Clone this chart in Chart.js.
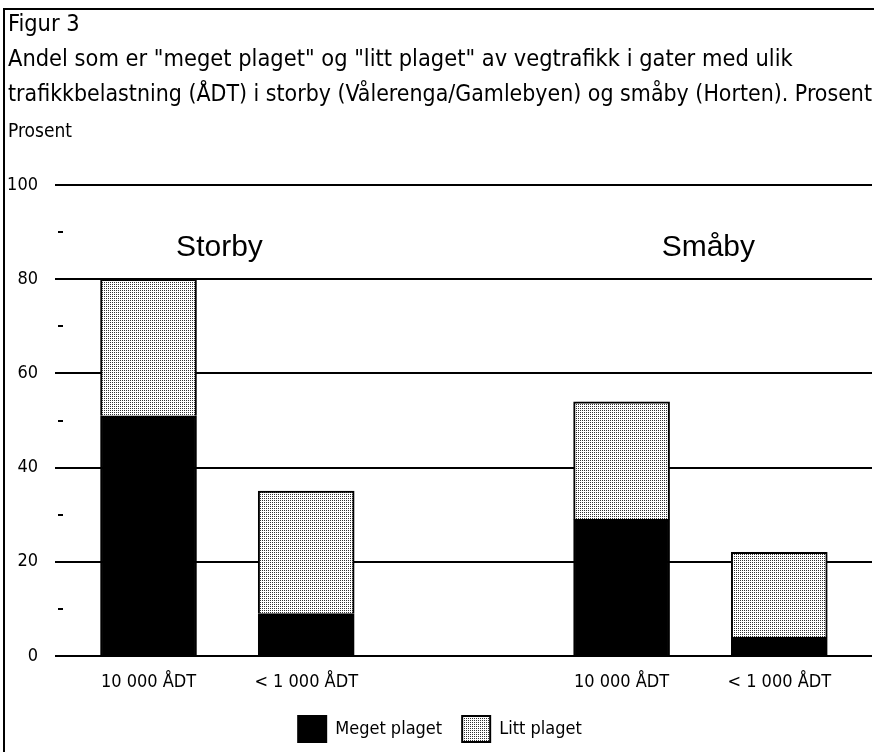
<!DOCTYPE html>
<html>
<head>
<meta charset="utf-8">
<script src="https://cdn.jsdelivr.net/npm/chart.js@4.4.1/dist/chart.umd.min.js"></script>
<style>
  html, body { margin: 0; padding: 0; background: #fff; }
  #wrap { width: 874px; height: 752px; position: relative; }
</style>
</head>
<body>
<div id="wrap"><canvas id="chart"></canvas></div>
<script>
const titleLines = [
  'Figur 3',
  'Andel som er "meget plaget" og "litt plaget" av vegtrafikk i gater med ulik',
  'trafikkbelastning (ÅDT) i storby (Vålerenga/Gamlebyen) og småby (Horten). Prosent'
];
const yTitle = 'Prosent';
const categories = ['10 000 ÅDT', '< 1 000 ÅDT', '10 000 ÅDT', '< 1 000 ÅDT'];
const slots = [0, 1, 3, 4];
const groups = ['Storby', 'Småby'];
const groupSlots = [0.45, 3.55];
const meget = [51, 9, 29, 4];
const litt = [29, 26, 25, 18];
const yMajor = [0, 20, 40, 60, 80, 100];
const yMinor = [10, 30, 50, 70, 90];

const NARROW = "'DejaVu Sans Condensed', 'Liberation Sans Narrow', 'Liberation Sans', sans-serif";
const WIDE = "'Liberation Sans', Arial, sans-serif";

// dotted fill like the printed raster
function dotPattern() {
  const c = document.createElement('canvas');
  c.width = 2; c.height = 2;
  const g = c.getContext('2d');
  g.fillStyle = '#fff';
  g.fillRect(0, 0, 2, 2);
  g.fillStyle = '#333';
  g.fillRect(0, 0, 1, 1);
  return g.createPattern(c, 'repeat');
}

const extras = {
  id: 'extras',
  afterDraw(chart) {
    const ctx = chart.ctx;
    const x = chart.scales.x, y = chart.scales.y;
    ctx.save();
    // frame
    ctx.strokeStyle = '#000';
    ctx.lineWidth = 2;
    ctx.beginPath();
    ctx.moveTo(4, 752);
    ctx.lineTo(4, 9);
    ctx.lineTo(874, 9);
    ctx.stroke();
    // minor dashes
    yMinor.forEach(v => {
      const py = Math.round(y.getPixelForValue(v));
      ctx.beginPath();
      ctx.moveTo(chart.chartArea.left + 3, py);
      ctx.lineTo(chart.chartArea.left + 8, py);
      ctx.stroke();
    });
    // group labels
    ctx.fillStyle = '#000';
    ctx.font = '30px ' + WIDE;
    ctx.textAlign = 'center';
    ctx.textBaseline = 'alphabetic';
    groups.forEach((g, i) => {
      ctx.fillText(g, x.getPixelForValue(groupSlots[i]), y.getPixelForValue(85));
    });
    ctx.restore();
  }
};

const pattern = dotPattern();

new Chart(document.getElementById('chart'), {
  type: 'bar',
  data: {
    datasets: [
      {
        label: 'Meget plaget',
        data: slots.map((s, i) => ({ x: s, y: meget[i] })),
        backgroundColor: '#000',
        borderColor: '#000',
        borderWidth: 2,
        barThickness: 96
      },
      {
        label: 'Litt plaget',
        data: slots.map((s, i) => ({ x: s, y: litt[i] })),
        backgroundColor: pattern,
        borderColor: '#000',
        borderWidth: 2,
        barThickness: 96
      }
    ]
  },
  options: {
    responsive: true,
    maintainAspectRatio: false,
    animation: false,
    layout: { padding: { left: 8, right: 2, top: 5, bottom: 0 } },
    plugins: {
      title: {
        display: true,
        text: titleLines,
        align: 'start',
        color: '#000',
        font: { family: NARROW, size: 23.4, weight: 'normal', lineHeight: 1.5 },
        padding: { top: 2, bottom: 0 }
      },
      subtitle: {
        display: true,
        text: yTitle,
        align: 'start',
        color: '#000',
        font: { family: NARROW, size: 19, weight: 'normal' },
        padding: { top: 8, bottom: 42 }
      },
      legend: {
        position: 'bottom',
        labels: {
          color: '#000',
          font: { family: NARROW, size: 18 },
          boxWidth: 28,
          boxHeight: 26,
          padding: 20
        }
      },
      tooltip: { enabled: false }
    },
    scales: {
      x: {
        type: 'linear',
        stacked: true,
        offset: false,
        min: -0.593,
        max: 4.588,
        grid: { display: false },
        border: { display: false },
        afterBuildTicks: s => { s.ticks = slots.map(v => ({ value: v })); },
        afterFit: s => { s.height = 40; },
        ticks: {
          color: '#000',
          font: { family: NARROW, size: 18 },
          padding: 8,
          callback: v => categories[slots.indexOf(v)]
        }
      },
      y: {
        stacked: true,
        min: 0,
        max: 100,
        afterBuildTicks: s => { s.ticks = yMajor.map(v => ({ value: v })); },
        afterFit: s => { s.width = 47; },
        grid: { color: '#000', lineWidth: 2, drawTicks: false },
        border: { display: false },
        ticks: {
          color: '#000',
          font: { family: NARROW, size: 18 },
          padding: 17
        }
      }
    }
  },
  plugins: [extras]
});
</script>
</body>
</html>
